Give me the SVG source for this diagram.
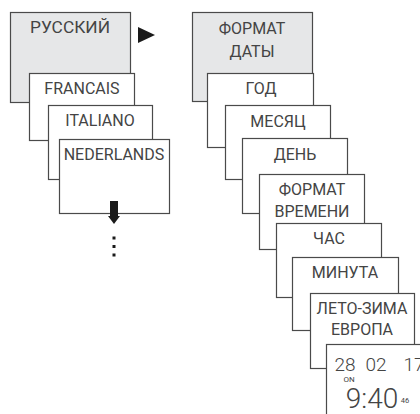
<svg xmlns="http://www.w3.org/2000/svg" width="420" height="414" viewBox="0 0 420 414">
<style>
rect.b{fill:#ffffff;stroke:#4a4a4a;stroke-width:1.2}
rect.g{fill:#e6e7e8;stroke:#4a4a4a;stroke-width:1.2}
text{font-family:Roboto,"Liberation Sans",sans-serif;font-size:16px;font-weight:400;fill:#444;text-anchor:middle}
.ar{fill:#1a1a1a}
</style>
<rect width="420" height="414" fill="#ffffff"/>
<g id="ru"><rect class="g" x="10.5" y="12.5" width="120" height="90"/><text x="70" y="33" textLength="80" lengthAdjust="spacingAndGlyphs">РУССКИЙ</text></g>
<g id="fr"><rect class="b" x="29.5" y="73.5" width="105" height="67"/><text x="82" y="94">FRANCAIS</text></g>
<g id="it"><rect class="b" x="48.5" y="105.5" width="104" height="74"/><text x="100" y="126">ITALIANO</text></g>
<g id="nl"><rect class="b" x="59.5" y="139.5" width="110" height="74"/><text x="114" y="160">NEDERLANDS</text></g>
<g id="fd"><rect class="g" x="192.5" y="12.5" width="120" height="89"/><text x="252" y="34">ФОРМАТ</text><text x="252" y="57">ДАТЫ</text></g>
<g id="god"><rect class="b" x="207.5" y="73.5" width="106" height="74"/><text x="261" y="94">ГОД</text></g>
<g id="mes"><rect class="b" x="225.5" y="105.5" width="105" height="74"/><text x="278" y="127">МЕСЯЦ</text></g>
<g id="den"><rect class="b" x="242.5" y="138.5" width="105" height="75"/><text x="295" y="160">ДЕНЬ</text></g>
<g id="fv"><rect class="b" x="259.5" y="174.5" width="105" height="75"/><text x="312" y="195">ФОРМАТ</text><text x="312" y="217">ВРЕМЕНИ</text></g>
<g id="chas"><rect class="b" x="276.5" y="223.5" width="105" height="74"/><text x="329" y="244">ЧАС</text></g>
<g id="min"><rect class="b" x="292.5" y="257.5" width="106" height="73"/><text x="345" y="278">МИНУТА</text></g>
<g id="leto"><rect class="b" x="310.5" y="293.5" width="104" height="75"/><text x="362" y="314">ЛЕТО-ЗИМА</text><text x="362" y="335">ЕВРОПА</text></g>
<g id="date"><rect class="b" x="326.5" y="344.5" width="110" height="80"/>
<text x="345" y="371" style="font-size:19px;font-weight:300">28</text>
<text x="376" y="371" style="font-size:19px;font-weight:300">02</text>
<text x="414" y="371" style="font-size:19px;font-weight:300">17</text>
<text x="349" y="382" style="font-size:8px">ON</text>
<text x="372" y="408" style="font-size:28px;font-weight:300">9:40</text>
<text x="405" y="403" style="font-size:7.5px">46</text>
</g>
<g id="connectors">
<polygon class="ar" points="138,27 155,35 138,43"/>
<polygon class="ar" points="110,201 118,201 118,216 120,216 114,224 108,216 110,216"/>
<rect class="ar" x="112.5" y="236.5" width="3" height="3"/>
<rect class="ar" x="112.5" y="245" width="3" height="3"/>
<rect class="ar" x="112.5" y="253.5" width="3" height="3"/>
</g>
</svg>
